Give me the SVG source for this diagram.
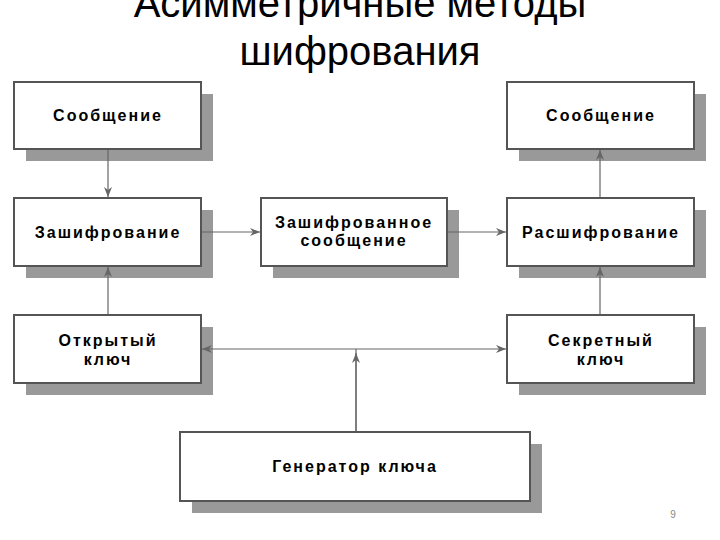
<svg xmlns="http://www.w3.org/2000/svg" width="720" height="540" viewBox="0 0 720 540">
<defs>
<style>
.title{font-family:"Liberation Sans",Arial,sans-serif;font-size:40px;fill:#000;text-anchor:middle}
.box{fill:#fff;stroke:#555;stroke-width:2}
.shadow{fill:#999}
.lbl{font-family:"Liberation Sans",Arial,sans-serif;font-weight:bold;font-size:16px;letter-spacing:2px;fill:#000;text-anchor:middle}
.conn{stroke:#666;stroke-width:1.2;fill:none}
.pg{font-family:"Liberation Sans",Arial,sans-serif;font-size:10px;fill:#888;text-anchor:middle}
</style>
<marker id="arr" viewBox="0 0 10 8" refX="10" refY="4" markerWidth="10" markerHeight="8" markerUnits="userSpaceOnUse" orient="auto">
<path d="M0,0 L10,4 L0,8 L3,4 Z" fill="#666"/>
</marker>
<marker id="arrs" viewBox="0 0 10 8" refX="10" refY="4" markerWidth="10" markerHeight="8" markerUnits="userSpaceOnUse" orient="auto-start-reverse">
<path d="M0,0 L10,4 L0,8 L3,4 Z" fill="#666"/>
</marker>
</defs>
<rect width="720" height="540" fill="#fff"/>
<text class="title" x="360" y="17">Асимметричные методы</text>
<text class="title" x="360" y="65">шифрования</text>

<g id="msg-left">
<rect class="shadow" x="26" y="94" width="187" height="67"/>
<rect class="box" x="14" y="82" width="187" height="67"/>
<text class="lbl" x="108" y="121">Сообщение</text>
</g>
<g id="msg-right">
<rect class="shadow" x="519" y="94" width="187" height="67"/>
<rect class="box" x="507" y="82" width="187" height="67"/>
<text class="lbl" x="601" y="121">Сообщение</text>
</g>
<g id="encrypt">
<rect class="shadow" x="26" y="210" width="187" height="68"/>
<rect class="box" x="14" y="198" width="187" height="68"/>
<text class="lbl" x="108" y="238">Зашифрование</text>
</g>
<g id="encrypted-msg">
<rect class="shadow" x="273" y="210" width="186" height="68"/>
<rect class="box" x="261" y="198" width="186" height="68"/>
<text class="lbl" x="354" y="228">Зашифрованное</text>
<text class="lbl" x="354" y="246">сообщение</text>
</g>
<g id="decrypt">
<rect class="shadow" x="519" y="210" width="187" height="68"/>
<rect class="box" x="507" y="198" width="187" height="68"/>
<text class="lbl" x="601" y="238">Расшифрование</text>
</g>
<g id="public-key">
<rect class="shadow" x="26" y="327" width="187" height="68"/>
<rect class="box" x="14" y="315" width="187" height="68"/>
<text class="lbl" x="108" y="346">Открытый</text>
<text class="lbl" x="108" y="365">ключ</text>
</g>
<g id="secret-key">
<rect class="shadow" x="519" y="327" width="187" height="68"/>
<rect class="box" x="507" y="315" width="187" height="68"/>
<text class="lbl" x="601" y="346">Секретный</text>
<text class="lbl" x="601" y="365">ключ</text>
</g>
<g id="key-generator">
<rect class="shadow" x="192" y="444" width="350" height="69"/>
<rect class="box" x="180" y="432" width="350" height="69"/>
<text class="lbl" x="355" y="472">Генератор ключа</text>
</g>

<g id="connectors">
<line class="conn" x1="108" y1="150" x2="108" y2="197" marker-end="url(#arr)"/>
<line class="conn" x1="202" y1="232" x2="260" y2="232" marker-end="url(#arr)"/>
<line class="conn" x1="448" y1="232" x2="506" y2="232" marker-end="url(#arr)"/>
<line class="conn" x1="600" y1="197" x2="600" y2="150" marker-end="url(#arr)"/>
<line class="conn" x1="600" y1="314" x2="600" y2="267" marker-end="url(#arr)"/>
<line class="conn" x1="108" y1="314" x2="108" y2="267" marker-end="url(#arr)"/>
<line class="conn" x1="202" y1="349" x2="506" y2="349" marker-start="url(#arrs)" marker-end="url(#arrs)"/>
<line class="conn" x1="356" y1="431" x2="356" y2="349"/>
<line class="conn" x1="356" y1="431" x2="356" y2="353" marker-end="url(#arr)"/>
</g>
<text class="pg" x="673" y="518">9</text>
</svg>
